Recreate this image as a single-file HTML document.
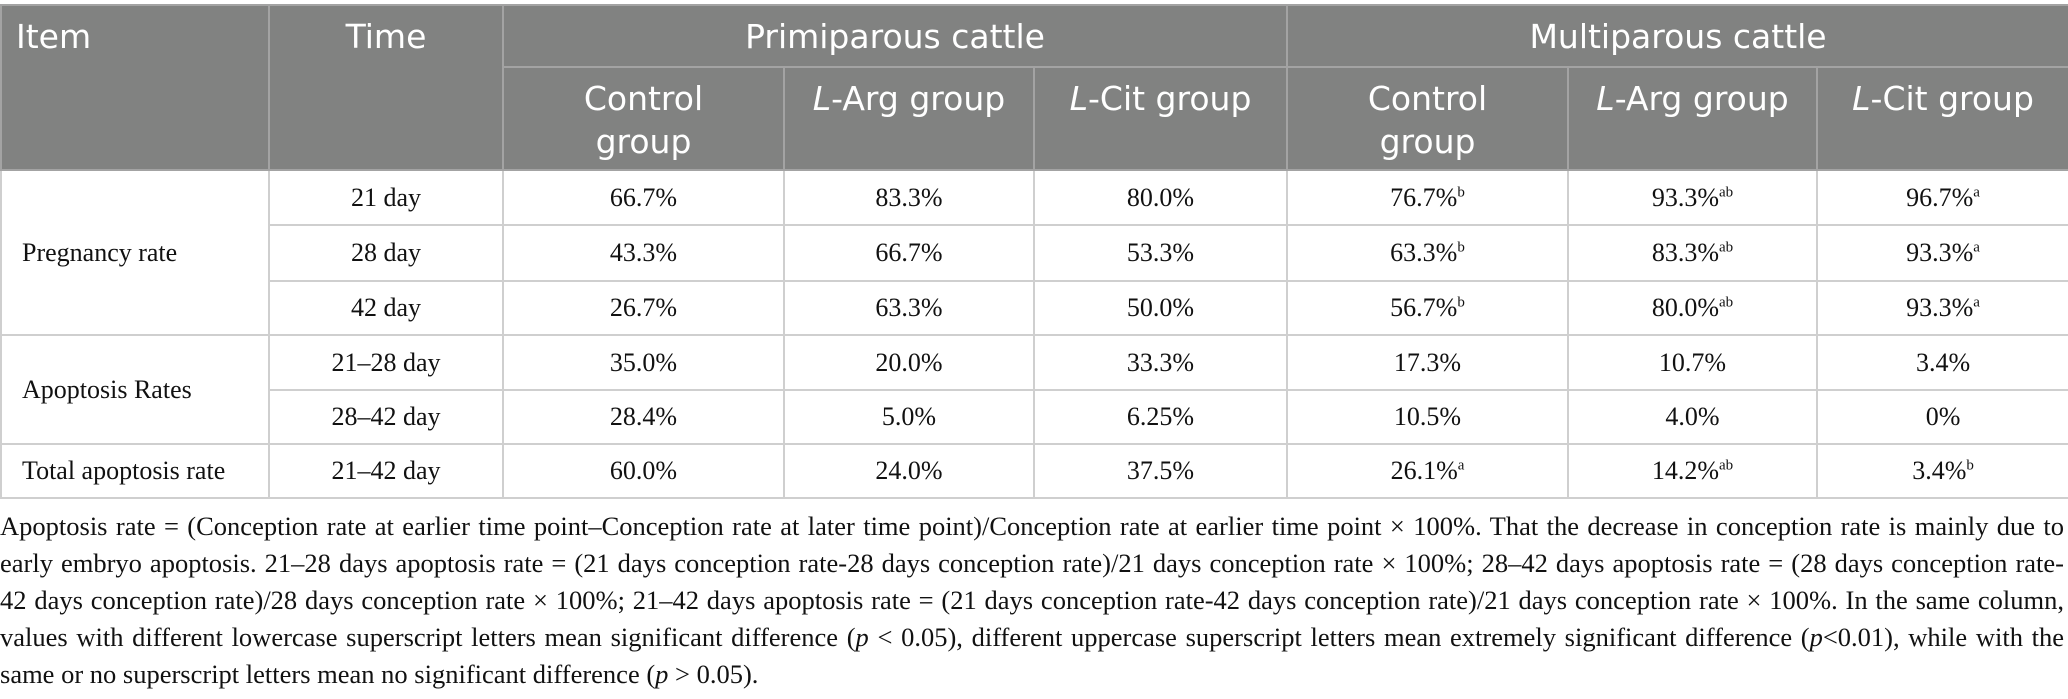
<!DOCTYPE html>
<html><head><meta charset="utf-8"><style>
html,body{margin:0;padding:0;background:#fff;width:2068px;height:699px;overflow:hidden}
table{position:absolute;left:0;top:4px;border-collapse:collapse;table-layout:fixed;width:2068px}
th{background:#818281;color:#fff;font-family:"DejaVu Sans","Liberation Sans",sans-serif;font-weight:normal;font-size:33px;border:2px solid #a3a3a3;line-height:43px;vertical-align:top;padding:9px 6px 0}
td{font-family:"Liberation Serif",serif;font-size:26px;color:#111;text-align:center;border:2px solid #cfcfcf;padding:0}
td.item{text-align:left;padding-left:20px}
sup{font-size:15px;line-height:0}
#note{position:absolute;left:0;top:508px;width:2064px;font-family:"Liberation Serif",serif;font-size:26.5px;color:#111}
#note div{height:37px;line-height:37px;white-space:nowrap;text-align:justify;text-align-last:justify}
#note div.last{text-align-last:left}
</style></head><body>
<table>
<colgroup><col style="width:268px"><col style="width:234px"><col style="width:281px"><col style="width:250px"><col style="width:253px"><col style="width:281px"><col style="width:249px"><col style="width:252px"></colgroup>
<tr style="height:62px">
<th rowspan="2" style="text-align:left;padding-left:14px">Item</th>
<th rowspan="2">Time</th>
<th colspan="3">Primiparous cattle</th>
<th colspan="3">Multiparous cattle</th></tr>
<tr style="height:103px">
<th>Control<br>group</th>
<th><i>L</i>-Arg group</th>
<th><i>L</i>-Cit group</th>
<th>Control<br>group</th>
<th><i>L</i>-Arg group</th>
<th><i>L</i>-Cit group</th></tr>
<tr style="height:55px"><td rowspan="3" class="item">Pregnancy rate</td><td>21 day</td><td>66.7%</td><td>83.3%</td><td>80.0%</td><td>76.7%<sup>b</sup></td><td>93.3%<sup>ab</sup></td><td>96.7%<sup>a</sup></td></tr>
<tr style="height:56px"><td>28 day</td><td>43.3%</td><td>66.7%</td><td>53.3%</td><td>63.3%<sup>b</sup></td><td>83.3%<sup>ab</sup></td><td>93.3%<sup>a</sup></td></tr>
<tr style="height:54px"><td>42 day</td><td>26.7%</td><td>63.3%</td><td>50.0%</td><td>56.7%<sup>b</sup></td><td>80.0%<sup>ab</sup></td><td>93.3%<sup>a</sup></td></tr>
<tr style="height:55px"><td rowspan="2" class="item">Apoptosis Rates</td><td>21–28 day</td><td>35.0%</td><td>20.0%</td><td>33.3%</td><td>17.3%</td><td>10.7%</td><td>3.4%</td></tr>
<tr style="height:54px"><td>28–42 day</td><td>28.4%</td><td>5.0%</td><td>6.25%</td><td>10.5%</td><td>4.0%</td><td>0%</td></tr>
<tr style="height:54px"><td class="item">Total apoptosis rate</td><td>21–42 day</td><td>60.0%</td><td>24.0%</td><td>37.5%</td><td>26.1%<sup>a</sup></td><td>14.2%<sup>ab</sup></td><td>3.4%<sup>b</sup></td></tr>
</table>
<div id="note">
<div>Apoptosis rate = (Conception rate at earlier time point–Conception rate at later time point)/Conception rate at earlier time point × 100%. That the decrease in conception rate is mainly due to</div>
<div>early embryo apoptosis. 21–28 days apoptosis rate = (21 days conception rate-28 days conception rate)/21 days conception rate × 100%; 28–42 days apoptosis rate = (28 days conception rate-</div>
<div>42 days conception rate)/28 days conception rate × 100%; 21–42 days apoptosis rate = (21 days conception rate-42 days conception rate)/21 days conception rate × 100%. In the same column,</div>
<div>values with different lowercase superscript letters mean significant difference (<i>p</i> &lt; 0.05), different uppercase superscript letters mean extremely significant difference (<i>p</i>&lt;0.01), while with the</div>
<div class="last">same or no superscript letters mean no significant difference (<i>p</i> &gt; 0.05).</div>
</div>
</body></html>
